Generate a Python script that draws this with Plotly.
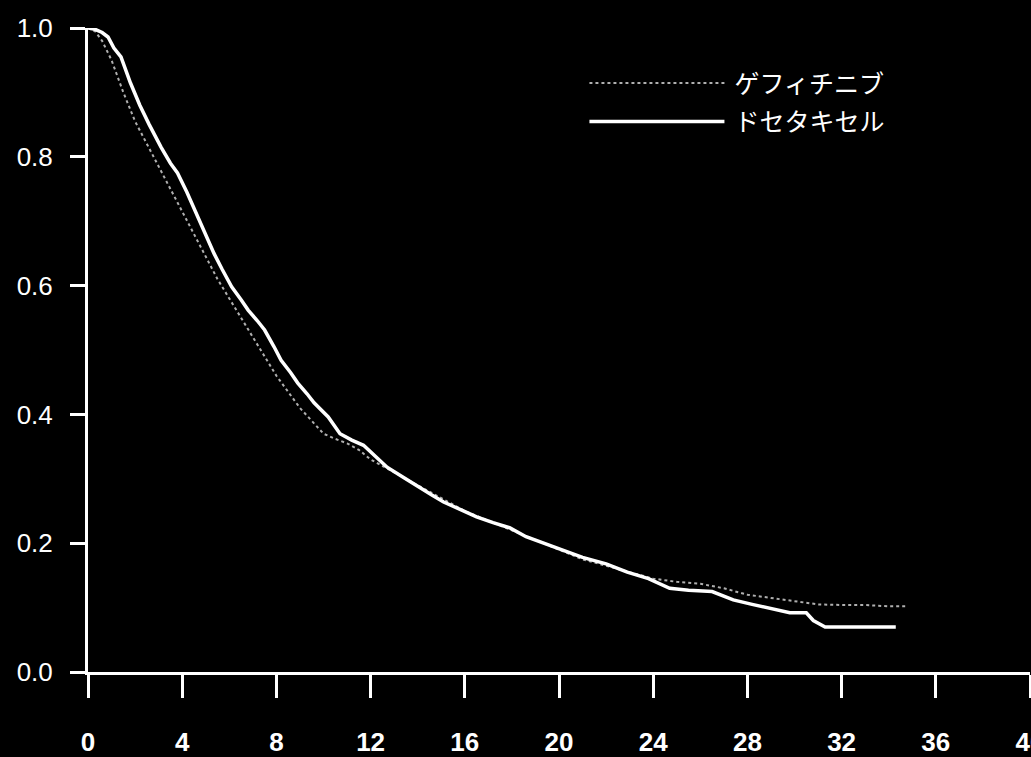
import plotly.graph_objects as go

# Kaplan-Meier curves (months, survival probability)
gef_months = [0, 0.3, 0.6, 1.0, 1.5, 2.0, 2.5, 3.0, 3.5, 4.0, 4.5, 5.0, 5.5, 6.0, 6.5,
              7.0, 7.5, 8.0, 8.5, 9.0, 9.5, 10.0, 10.5, 11.0, 11.5, 12.0, 13, 14, 15,
              16, 17, 18, 19, 20, 21, 22, 23, 24, 25, 26, 27, 28, 29, 30, 31, 32, 33,
              34, 34.7]
gef_surv = [1.0, 0.995, 0.98, 0.95, 0.9, 0.855, 0.82, 0.785, 0.75, 0.715, 0.68, 0.645,
            0.61, 0.58, 0.55, 0.52, 0.49, 0.46, 0.435, 0.41, 0.39, 0.37, 0.362, 0.355,
            0.345, 0.33, 0.31, 0.29, 0.27, 0.25, 0.235, 0.22, 0.205, 0.19, 0.175, 0.165,
            0.155, 0.145, 0.14, 0.137, 0.13, 0.12, 0.115, 0.11, 0.105, 0.104, 0.104,
            0.102, 0.102]

doc_months = [0, 0.3, 0.6, 0.85, 1.1, 1.4, 1.8, 2.2, 2.6, 3.1, 3.5, 3.8, 4.2, 4.6, 4.9,
              5.35, 5.7, 6.1, 6.5, 6.8, 7.2, 7.5, 7.9, 8.2, 8.6, 8.9, 9.3, 9.6, 10.2,
              10.7, 11.2, 11.7, 12.2, 12.7, 13.4, 14.1, 14.6, 15.1, 15.8, 16.5, 17.2,
              17.9, 18.6, 19.4, 20.1, 21.0, 22.0, 22.9, 23.8, 24.7, 25.5, 26.5, 27.4,
              28.2, 29.0, 29.8, 30.5, 30.8, 31.3, 32.5, 34.3]
doc_surv = [1.0, 0.998, 0.993, 0.986, 0.969, 0.955, 0.915, 0.88, 0.85, 0.815, 0.79,
            0.775, 0.745, 0.712, 0.686, 0.65, 0.625, 0.598, 0.578, 0.562, 0.545, 0.531,
            0.505, 0.484, 0.465, 0.449, 0.432, 0.418, 0.396, 0.37, 0.36, 0.352, 0.335,
            0.318, 0.302, 0.287, 0.275, 0.264, 0.252, 0.241, 0.232, 0.224, 0.21, 0.2,
            0.19, 0.178, 0.168, 0.155, 0.145, 0.13, 0.127, 0.125, 0.112, 0.105, 0.098,
            0.092, 0.092, 0.08, 0.07, 0.07, 0.07]

x_ticks = [0, 4, 8, 12, 16, 20, 24, 28, 32, 36, 40]
y_ticks = [0.0, 0.2, 0.4, 0.6, 0.8, 1.0]
y_tick_labels = ["0.0", "0.2", "0.4", "0.6", "0.8", "1.0"]
series_names = ["ゲフィチニブ", "ドセタキセル"]

fig = go.Figure()
fig.add_trace(go.Scatter(x=gef_months, y=gef_surv, mode="lines", name="\u2009" + series_names[0],
                         legendgroup="g1",
                         line=dict(shape="linear", color="rgb(175,175,175)", width=2, dash="dot")))
fig.add_trace(go.Scatter(x=doc_months, y=doc_surv, mode="lines", name="\u2009" + series_names[1],
                         legendgroup="g2",
                         line=dict(shape="linear", color="white", width=3.5)))

fig.update_layout(
    width=1031, height=757,
    paper_bgcolor="black", plot_bgcolor="black",
    margin=dict(l=88, r=1, t=28, b=85, autoexpand=False),
    showlegend=True,
    legend=dict(x=0.527, y=0.950, xanchor="left", yanchor="top",
                bgcolor="rgba(0,0,0,0)", itemwidth=135, tracegroupgap=3,
                font=dict(family="Noto Sans CJK JP", size=25, color="white")),
)
fig.update_xaxes(range=[0, 40], tickvals=x_ticks, ticktext=[str(t) for t in x_ticks],
                 showgrid=False, zeroline=False, showline=True, linecolor="white",
                 linewidth=3, ticks="outside", ticklen=23, tickwidth=3, tickcolor="white",
                 ticklabelstandoff=22, ticklabeloverflow="allow", automargin=False,
                 tickfont=dict(family="Liberation Sans", size=26, color="white", weight="bold"))
fig.update_yaxes(range=[0, 1.0], tickvals=y_ticks, ticktext=y_tick_labels,
                 showgrid=False, zeroline=False, showline=True, linecolor="white",
                 linewidth=3, ticks="outside", ticklen=15, tickwidth=3, tickcolor="white",
                 ticklabelstandoff=12, automargin=False,
                 tickfont=dict(family="Liberation Sans", size=26, color="white"))

fig.write_html("out.html", config={"displayModeBar": False},
               post_script="document.body.style.margin='0';document.body.style.background='black';")
